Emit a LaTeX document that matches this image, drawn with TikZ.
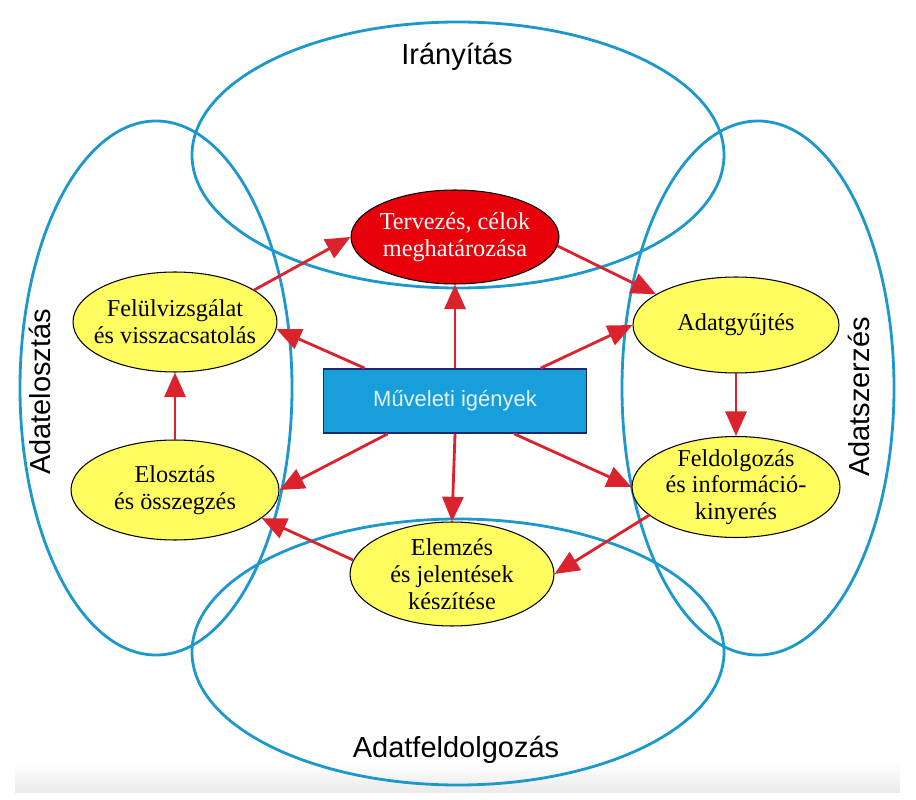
\documentclass[tikz,border=0pt]{standalone}
\usepackage{fontspec}
\setmainfont{Liberation Serif}
\newfontfamily\labelfont{Liberation Sans}
\usetikzlibrary{shapes.geometric,arrows.meta}
\definecolor{ringblue}{RGB}{28,152,204}
\definecolor{arrowred}{RGB}{218,35,45}
\definecolor{nodeyellow}{RGB}{255,252,95}
\definecolor{nodered}{RGB}{232,0,10}
\definecolor{boxblue}{RGB}{24,158,218}
\definecolor{boxborder}{RGB}{30,40,110}
\begin{document}
\begin{tikzpicture}[x=0.02cm,y=-0.02cm,
  ring/.style={draw=ringblue,line width=1.6pt},
  stage/.style={ellipse,draw=black,line width=0.6pt,fill=nodeyellow,inner xsep=-0.4cm,inner ysep=-0.12cm,align=center,font=\fontsize{13.8}{15.2}\selectfont},
  flow/.style={draw=arrowred,line width=1.6pt,-{Triangle[length=14pt,width=12pt]}},
  ringlabel/.style={font=\labelfont\fontsize{16.5}{18}\selectfont}]
\useasboundingbox (0,0) rectangle (916,800);
\shade[top color=white,bottom color=black!8] (15,762) rectangle (900,792);
% big rings
\draw[ring] (458,155) ellipse [x radius=266, y radius=133];
\draw[ring] (458,652) ellipse [x radius=266, y radius=133];
\draw[ring] (156,388) ellipse [x radius=136, y radius=267];
\draw[ring] (758,388) ellipse [x radius=136, y radius=267];
% ring labels
\node[ringlabel] (l1) at (457,57) {Irányítás};
\node[ringlabel] (l2) at (456,750) {Adatfeldolgozás};
\node[ringlabel,rotate=90] (l3) at (40,392) {Adatelosztás};
\node[ringlabel,rotate=90] (l4) at (859,397) {Adatszerzés};
% stages
\node[stage,fill=nodered,text=white,minimum width=4.16cm,minimum height=1.88cm] (t) at (455,237) {Tervezés, célok\\meghatározása};
\node[stage,minimum width=4.08cm,minimum height=2.0cm] (f) at (175,322) {Felülvizsgálat\\és visszacsatolás};
\node[stage,minimum width=4.12cm,minimum height=1.92cm] (a) at (736,325) {Adatgyűjtés};
\node[stage,minimum width=4.16cm,minimum height=2.02cm] (fd) at (736,487) {Feldolgozás\\és információ-\\kinyerés};
\node[stage,minimum width=4.08cm,minimum height=2.08cm] (e) at (452,574) {Elemzés\\és jelentések\\készítése};
\node[stage,minimum width=4.16cm,minimum height=2.0cm] (el) at (175,490) {Elosztás\\és összegzés};
\node[draw=boxborder,line width=1pt,fill=boxblue,minimum width=5.26cm,minimum height=1.28cm,text=white!88!boxblue,font=\labelfont\fontsize{12.5}{14}\selectfont] (m) at (455,401) {Műveleti igények};
% flows
\draw[flow] (f.22) -- (t.west);
\draw[flow] (t.-5) -- (a.159);
\draw[flow] (a.south) -- (fd.north);
\draw[flow] (fd.198) -- (e.east);
\draw[flow] (e.172) -- (el.-18);
\draw[flow] (el.north) -- (f.south);
\draw[flow] (m.north) -- (t.south);
\draw[flow] (m.south) -- (e.north);
\draw[flow] (m.160) -- (f.-4);
\draw[flow] (m.21) -- (a.west);
\draw[flow] (m.206) -- (el.east);
\draw[flow] (m.331) -- (fd.west);
\end{tikzpicture}
\end{document}
